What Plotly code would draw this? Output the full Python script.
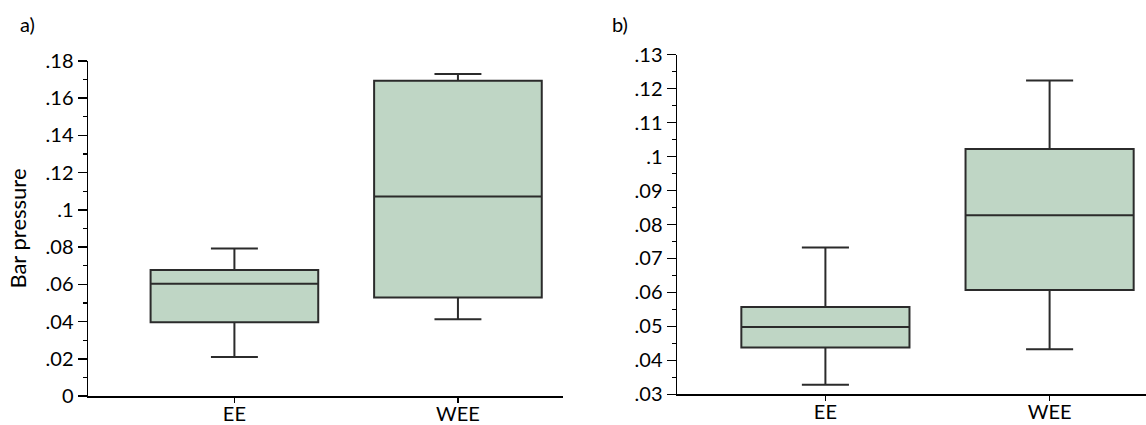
import plotly.graph_objects as go

categories = ["EE", "WEE"]

# Panel a) values
a_lower = [0.0210, 0.0413]
a_q1 = [0.0397, 0.0529]
a_median = [0.0604, 0.1072]
a_q3 = [0.0677, 0.1694]
a_upper = [0.0793, 0.1730]

# Panel b) values
b_lower = [0.0328, 0.0433]
b_q1 = [0.0438, 0.0607]
b_median = [0.0498, 0.0827]
b_q3 = [0.0557, 0.1022]
b_upper = [0.0732, 0.1224]

a_tickvals = [0, 0.02, 0.04, 0.06, 0.08, 0.1, 0.12, 0.14, 0.16, 0.18]
a_ticktext = ["0", ".02", ".04", ".06", ".08", ".1", ".12", ".14", ".16", ".18"]
b_tickvals = [0.03, 0.04, 0.05, 0.06, 0.07, 0.08, 0.09, 0.1, 0.11, 0.12, 0.13]
b_ticktext = [".03", ".04", ".05", ".06", ".07", ".08", ".09", ".1", ".11", ".12", ".13"]

FILL = "#bfd6c5"
LINE = "#2b2b2b"
FONT = "Lato, Noto Sans, sans-serif"
FS = 20

fig = go.Figure()
fig.add_trace(go.Box(
    x=categories, q1=a_q1, median=a_median, q3=a_q3,
    lowerfence=a_lower, upperfence=a_upper,
    fillcolor=FILL, line=dict(color=LINE, width=2),
    width=0.75, whiskerwidth=0.28, boxpoints=False,
    xaxis="x", yaxis="y", showlegend=False, hoverinfo="skip",
))
fig.add_trace(go.Box(
    x=categories, q1=b_q1, median=b_median, q3=b_q3,
    lowerfence=b_lower, upperfence=b_upper,
    fillcolor=FILL, line=dict(color=LINE, width=2),
    width=0.75, whiskerwidth=0.28, boxpoints=False,
    xaxis="x2", yaxis="y2", showlegend=False, hoverinfo="skip",
))

W, H = 1146, 425

xcommon = dict(
    showline=True, linecolor="black", linewidth=1.5,
    ticks="outside", ticklen=5, tickwidth=1.5, tickcolor="black",
    showgrid=False, zeroline=False, automargin=False,
    ticklabelstandoff=-6,
    tickfont=dict(family=FONT, size=FS, color="black"),
)
ycommon = dict(
    showline=True, linecolor="black", linewidth=1.5,
    ticks="outside", ticklen=9, tickwidth=1.5, tickcolor="black",
    showgrid=False, zeroline=False, automargin=False,
    tickfont=dict(family=FONT, size=FS, color="black"),
)

fig.update_layout(
    width=W, height=H,
    margin=dict(l=0, r=0, t=0, b=0, autoexpand=False),
    paper_bgcolor="white", plot_bgcolor="white",
    xaxis=dict(domain=[88 / W, 563 / W], range=[-0.655, 1.47], anchor="y",
               type="category", **xcommon),
    yaxis=dict(domain=[1 - 396.1 / H, 1 - 61 / H], range=[0, 0.18], anchor="x",
               tickvals=a_tickvals, ticktext=a_ticktext,
               minor=dict(ticks="outside", ticklen=4, tickwidth=1.2, tickcolor="black",
                          showgrid=False, dtick=0.01, tick0=0),
               title=dict(text="Bar pressure", font=dict(family=FONT, size=22, color="black"), standoff=13),
               **ycommon),
    xaxis2=dict(domain=[677 / W, 1.0], range=[-0.662, 1.43], anchor="y2",
                type="category", **xcommon),
    yaxis2=dict(domain=[1 - 394.3 / H, 1 - 54.7 / H], range=[0.03, 0.13], anchor="x2",
                tickvals=b_tickvals, ticktext=b_ticktext,
                minor=dict(ticks="outside", ticklen=4, tickwidth=1.2, tickcolor="black",
                           showgrid=False, dtick=0.005, tick0=0.03),
                **ycommon),
    annotations=[
        dict(text="a)", x=27 / W, y=1 - 24 / H, xref="paper", yref="paper",
             xanchor="center", yanchor="middle",
             showarrow=False, font=dict(family=FONT, size=FS, color="black")),
        dict(text="b)", x=620 / W, y=1 - 24 / H, xref="paper", yref="paper",
             xanchor="center", yanchor="middle",
             showarrow=False, font=dict(family=FONT, size=FS, color="black")),
    ],
)

fig.write_html(
    "out.html",
    config={"displayModeBar": False, "staticPlot": True},
    post_script="document.body.style.margin='0';document.body.style.overflow='hidden';",
)
